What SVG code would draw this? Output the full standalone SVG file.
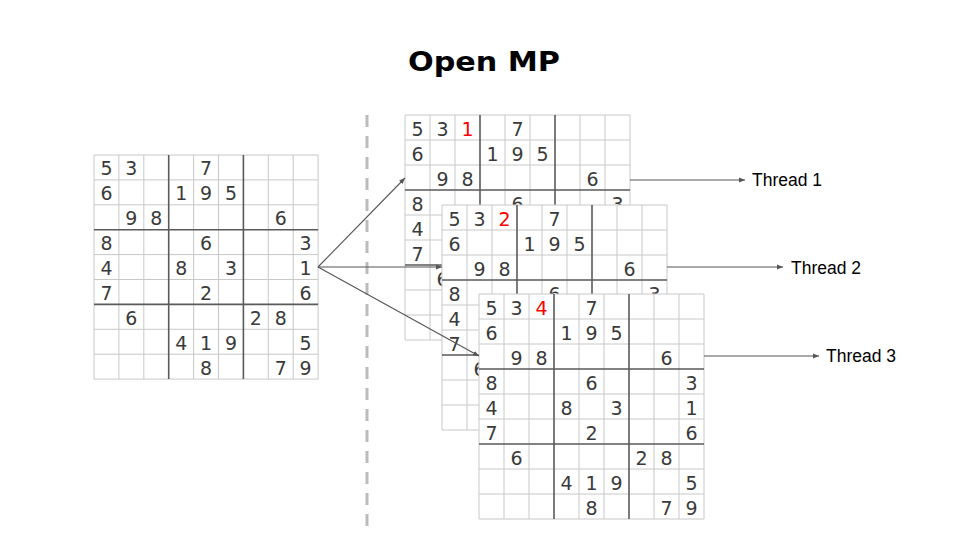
<svg xmlns="http://www.w3.org/2000/svg" xmlns:xlink="http://www.w3.org/1999/xlink" width="960" height="540" viewBox="0 0 960 540">
<style>
.thin{stroke:#c8c8c8;stroke-width:1;fill:none}
.thick{stroke:#5a5a5a;stroke-width:1.6;fill:none}
.d{font-family:"DejaVu Sans","Verdana",sans-serif;font-size:19px;fill:#3a3a3a;text-anchor:middle}
.red{fill:#ff0000}
.title{font-family:"DejaVu Sans",sans-serif;font-weight:bold;font-size:27px;fill:#000;text-anchor:middle}
.lbl{font-family:"Liberation Sans",Arial,sans-serif;font-size:17.5px;fill:#000}
.conn{stroke:#555;stroke-width:1.1;fill:none;marker-end:url(#ah)}
</style>
<defs>
<marker id="ah" viewBox="0 0 10 10" refX="10" refY="5" markerWidth="6" markerHeight="6" markerUnits="userSpaceOnUse" orient="auto">
<path d="M0,1 L10,5 L0,9 Z" fill="#555"/>
</marker>
<g id="grid">
<rect x="0" y="0" width="225" height="225" fill="#fff"/>
<path class="thin" d="M0,0V225M25,0V225M50,0V225M100,0V225M125,0V225M175,0V225M200,0V225M225,0V225M0,0H225M0,25H225M0,50H225M0,100H225M0,125H225M0,175H225M0,200H225M0,225H225"/>
<path class="thick" d="M75,0V225M150,0V225M0,75H225M0,150H225"/>
<text class="d" x="12.5" y="20.5">5</text><text class="d" x="37.5" y="20.5">3</text><text class="d" x="112.5" y="20.5">7</text>
<text class="d" x="12.5" y="45.5">6</text><text class="d" x="87.5" y="45.5">1</text><text class="d" x="112.5" y="45.5">9</text><text class="d" x="137.5" y="45.5">5</text>
<text class="d" x="37.5" y="70.5">9</text><text class="d" x="62.5" y="70.5">8</text><text class="d" x="187.5" y="70.5">6</text>
<text class="d" x="12.5" y="95.5">8</text><text class="d" x="112.5" y="95.5">6</text><text class="d" x="212.5" y="95.5">3</text>
<text class="d" x="12.5" y="120.5">4</text><text class="d" x="87.5" y="120.5">8</text><text class="d" x="137.5" y="120.5">3</text><text class="d" x="212.5" y="120.5">1</text>
<text class="d" x="12.5" y="145.5">7</text><text class="d" x="112.5" y="145.5">2</text><text class="d" x="212.5" y="145.5">6</text>
<text class="d" x="37.5" y="170.5">6</text><text class="d" x="162.5" y="170.5">2</text><text class="d" x="187.5" y="170.5">8</text>
<text class="d" x="87.5" y="195.5">4</text><text class="d" x="112.5" y="195.5">1</text><text class="d" x="137.5" y="195.5">9</text><text class="d" x="212.5" y="195.5">5</text>
<text class="d" x="112.5" y="220.5">8</text><text class="d" x="187.5" y="220.5">7</text><text class="d" x="212.5" y="220.5">9</text>
</g>
</defs>
<rect width="960" height="540" fill="#fff"/>
<text class="title" x="484" y="71" textLength="152" lengthAdjust="spacingAndGlyphs">Open MP</text>
<line x1="367" y1="115" x2="367" y2="527" stroke="#bbb" stroke-width="3" stroke-dasharray="12 9"/>
<g id="board-input"><use xlink:href="#grid" href="#grid" transform="translate(94,155) scale(0.996)"/></g>
<g id="board-thread1"><use xlink:href="#grid" href="#grid" transform="translate(405,115)"/><text class="d red" x="467.5" y="135.5">1</text></g>
<g id="board-thread2"><use xlink:href="#grid" href="#grid" transform="translate(442,205)"/><text class="d red" x="504.5" y="225.5">2</text></g>
<g id="board-thread3"><use xlink:href="#grid" href="#grid" transform="translate(479,294)"/><text class="d red" x="541.5" y="314.5">4</text></g>
<g id="label-thread1"><text class="lbl" x="752" y="186">Thread 1</text></g>
<g id="label-thread2"><text class="lbl" x="791" y="274">Thread 2</text></g>
<g id="label-thread3"><text class="lbl" x="826" y="362">Thread 3</text></g>
<g id="connectors">
<line class="conn" x1="318" y1="267" x2="405" y2="178"/>
<line class="conn" x1="318" y1="267" x2="442" y2="267"/>
<line class="conn" x1="318" y1="267" x2="479" y2="356"/>
<line class="conn" x1="630" y1="180" x2="745" y2="180"/>
<line class="conn" x1="667" y1="267" x2="783" y2="267"/>
<line class="conn" x1="704" y1="356" x2="819" y2="356"/>
</g>
</svg>
